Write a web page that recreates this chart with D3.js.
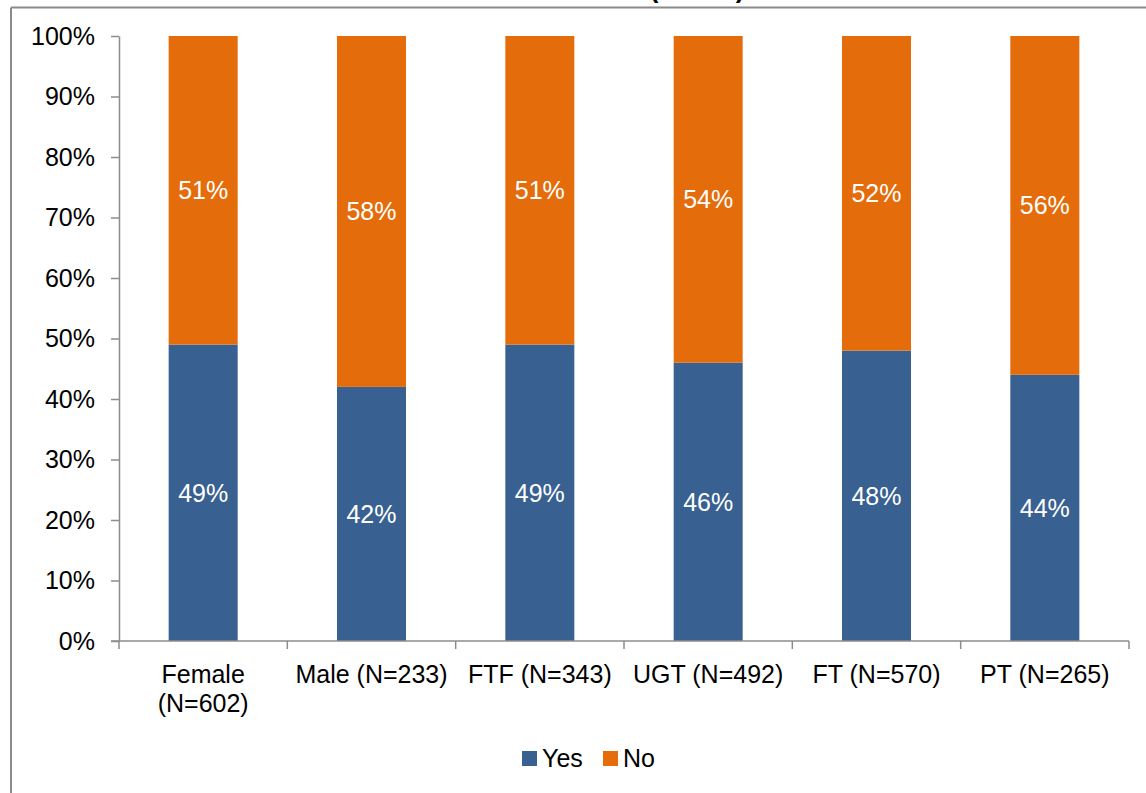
<!DOCTYPE html>
<html>
<head>
<meta charset="utf-8">
<script src="https://cdn.jsdelivr.net/npm/d3@7"></script>
<style>
  html, body { margin: 0; padding: 0; background: #fff; }
  svg { display: block; font-family: "Liberation Sans", Arial, sans-serif; }
</style>
</head>
<body>
<svg id="chart" width="1146" height="793"></svg>
<script>
// Categories (two-line labels split on "\n")
const categories = ["Female\n(N=602)", "Male (N=233)", "FTF (N=343)", "UGT (N=492)", "FT (N=570)", "PT (N=265)"];
// Share answering Yes / No, in percent
const yesValues = [49, 42, 49, 46, 48, 44];
const noValues  = [51, 58, 51, 54, 52, 56];
const seriesNames = ["Yes", "No"];
const seriesColors = ["#386192", "#E46C0A"];
const yTicks = [0, 10, 20, 30, 40, 50, 60, 70, 80, 90, 100];

const FONT = 25;
const svg = d3.select("#chart");
const margin = { left: 119, right: 1129, top: 36, bottom: 641 };

const x = d3.scaleBand().domain(categories).range([margin.left, margin.right]).paddingInner(0.59).paddingOuter(0.295);
const y = d3.scaleLinear().domain([0, 100]).range([margin.bottom, margin.top]);

// Outer frame (top and left edges visible)
svg.append("line").attr("x1", 11).attr("x2", 1146).attr("y1", 7.5).attr("y2", 7.5)
  .attr("stroke", "#8a8a8a").attr("stroke-width", 2);
svg.append("line").attr("x1", 11).attr("x2", 11).attr("y1", 7.5).attr("y2", 793)
  .attr("stroke", "#8a8a8a").attr("stroke-width", 2);

// Title, sitting above the frame
svg.append("text").attr("x", 697).attr("y", -2).attr("text-anchor", "middle")
  .attr("font-size", 26).attr("font-weight", "bold").attr("fill", "#000").text("(N=835)");

// Stacked data
const rows = categories.map((c, i) => ({ cat: c, Yes: yesValues[i], No: noValues[i] }));
const stack = d3.stack().keys(seriesNames)(rows);

const groups = svg.append("g").selectAll("g").data(stack).join("g")
  .attr("fill", (d, i) => seriesColors[i]);
groups.selectAll("rect").data(d => d).join("rect")
  .attr("x", d => x(d.data.cat))
  .attr("width", x.bandwidth())
  .attr("y", d => y(d[1]))
  .attr("height", d => y(d[0]) - y(d[1]));

// Value labels in each segment
groups.selectAll("text").data(d => d).join("text")
  .attr("x", d => x(d.data.cat) + x.bandwidth() / 2)
  .attr("y", d => (y(d[0]) + y(d[1])) / 2)
  .attr("dy", "0.35em")
  .attr("text-anchor", "middle")
  .attr("font-size", FONT)
  .attr("fill", "#fff")
  .text(d => Math.round(d[1] - d[0]) + "%");

// Y axis
const yAxis = svg.append("g").attr("transform", `translate(${margin.left},0)`)
  .call(d3.axisLeft(y).tickValues(yTicks).tickFormat(d => d + "%").tickSize(8).tickSizeOuter(0));
yAxis.select(".domain").attr("stroke", "#8c8c8c").attr("stroke-width", 1.5);
yAxis.selectAll(".tick line").attr("stroke", "#8c8c8c").attr("stroke-width", 1.5);
yAxis.selectAll(".tick text").attr("font-size", FONT).attr("fill", "#000").attr("x", -24)
  .attr("font-family", "Liberation Sans, Arial, sans-serif");

// X axis: boundary ticks between categories
const xAxisG = svg.append("g");
xAxisG.append("line").attr("x1", margin.left - 8).attr("x2", margin.right)
  .attr("y1", margin.bottom).attr("y2", margin.bottom)
  .attr("stroke", "#8c8c8c").attr("stroke-width", 1.5);
const step = x.step();
const boundaries = d3.range(categories.length + 1).map(i => margin.left + i * step);
xAxisG.selectAll("line.bt").data(boundaries).join("line").attr("class", "bt")
  .attr("x1", d => d).attr("x2", d => d)
  .attr("y1", margin.bottom).attr("y2", margin.bottom + 8)
  .attr("stroke", "#8c8c8c").attr("stroke-width", 1.5);

// Category labels
xAxisG.selectAll("text.cl").data(categories).join("text").attr("class", "cl")
  .attr("x", d => x(d) + x.bandwidth() / 2)
  .attr("y", 683)
  .attr("text-anchor", "middle")
  .attr("font-size", FONT)
  .attr("fill", "#000")
  .each(function (d) {
    const t = d3.select(this);
    d.split("\n").forEach((line, i) => {
      t.append("tspan").attr("x", x(d) + x.bandwidth() / 2).attr("dy", i === 0 ? 0 : 29).text(line);
    });
  });

// Legend
const legend = svg.append("g");
const legendItems = [{ name: seriesNames[0], color: seriesColors[0], x: 522 },
                     { name: seriesNames[1], color: seriesColors[1], x: 603 }];
legendItems.forEach(it => {
  legend.append("rect").attr("x", it.x).attr("y", 751).attr("width", 15).attr("height", 15).attr("fill", it.color);
  legend.append("text").attr("x", it.x + 20).attr("y", 767).attr("font-size", FONT).attr("fill", "#000").text(it.name);
});
</script>
</body>
</html>
